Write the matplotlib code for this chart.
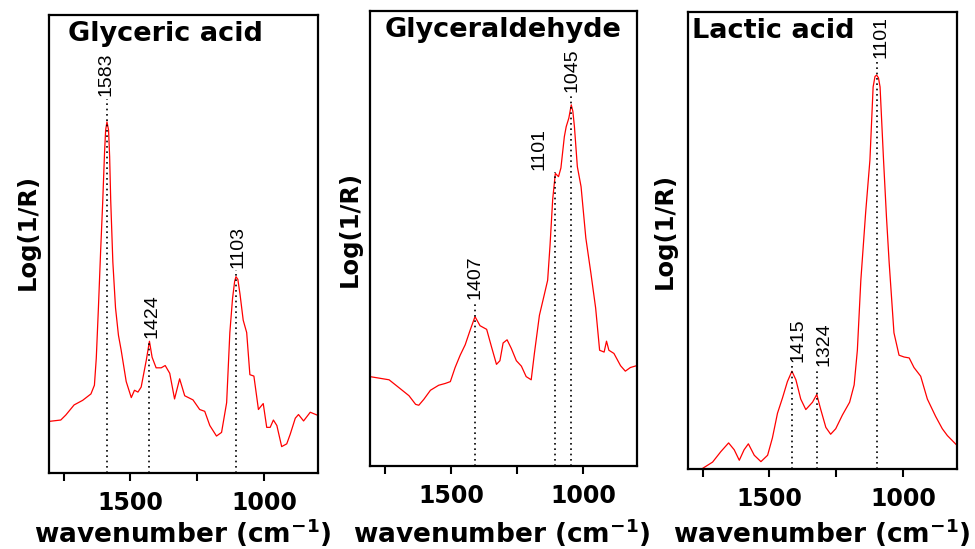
import matplotlib
matplotlib.use("Agg")
import matplotlib.pyplot as plt
from matplotlib.ticker import FixedLocator

# ---------------- data (wavenumber, relative Log(1/R)) ----------------
wn_glyceric = [1805, 1761, 1742, 1711, 1679, 1648, 1635, 1628, 1620, 1612, 1604, 1597, 1593,
               1588, 1582, 1578, 1574, 1566, 1556, 1545, 1535, 1516, 1497, 1485, 1472, 1460,
               1441, 1429, 1419, 1404, 1385, 1370, 1353, 1335, 1316, 1297, 1266, 1241, 1222,
               1203, 1178, 1159, 1140, 1128, 1118, 1110, 1105, 1098, 1090, 1078, 1065, 1053,
               1038, 1021, 1013, 1003, 990, 977, 965, 952, 934, 915, 902, 883, 871, 852, 827, 802]
y_glyceric = [0.112, 0.115, 0.126, 0.148, 0.158, 0.172, 0.191, 0.250, 0.360, 0.480, 0.590, 0.700,
              0.748, 0.766, 0.748, 0.690, 0.595, 0.460, 0.360, 0.300, 0.268, 0.199, 0.164, 0.180,
              0.176, 0.187, 0.245, 0.287, 0.252, 0.229, 0.229, 0.234, 0.217, 0.161, 0.205, 0.168,
              0.159, 0.138, 0.134, 0.103, 0.080, 0.088, 0.153, 0.306, 0.380, 0.418, 0.428, 0.422,
              0.390, 0.333, 0.306, 0.214, 0.211, 0.138, 0.144, 0.151, 0.099, 0.099, 0.115, 0.103,
              0.057, 0.063, 0.084, 0.119, 0.127, 0.113, 0.132, 0.126]

wn_glyceraldehyde = [1805, 1733, 1690, 1658, 1633, 1621, 1602, 1577, 1546, 1521, 1502, 1484, 1465,
                     1446, 1428, 1409, 1390, 1365, 1347, 1328, 1315, 1303, 1288, 1272, 1253, 1234,
                     1216, 1197, 1185, 1166, 1147, 1135, 1126, 1116, 1106, 1094, 1085, 1072, 1065,
                     1055, 1046, 1040, 1034, 1023, 1009, 991, 972, 954, 939, 922, 913, 904, 885,
                     860, 842, 823, 800]
y_glyceraldehyde = [0.196, 0.189, 0.169, 0.154, 0.135, 0.133, 0.146, 0.166, 0.177, 0.181, 0.185,
                    0.216, 0.243, 0.266, 0.297, 0.328, 0.308, 0.300, 0.262, 0.223, 0.231, 0.270,
                    0.277, 0.258, 0.231, 0.219, 0.196, 0.189, 0.247, 0.331, 0.378, 0.408, 0.485,
                    0.586, 0.643, 0.636, 0.655, 0.724, 0.746, 0.765, 0.794, 0.780, 0.746, 0.658,
                    0.614, 0.501, 0.424, 0.347, 0.254, 0.250, 0.274, 0.254, 0.247, 0.220, 0.208,
                    0.216, 0.220]

wn_lactic = [1751, 1713, 1682, 1653, 1632, 1613, 1595, 1579, 1557, 1532, 1507, 1489, 1470, 1451,
             1433, 1416, 1401, 1383, 1364, 1339, 1323, 1308, 1289, 1271, 1252, 1227, 1200, 1183,
             1171, 1158, 1140, 1124, 1112, 1105, 1099, 1092, 1086, 1073, 1062, 1052, 1034, 1015,
             996, 977, 959, 934, 909, 878, 853, 834, 797]
y_lactic = [0.000, 0.014, 0.037, 0.056, 0.041, 0.018, 0.041, 0.054, 0.029, 0.015, 0.029, 0.067,
            0.121, 0.155, 0.190, 0.213, 0.194, 0.152, 0.129, 0.145, 0.162, 0.129, 0.090, 0.075,
            0.087, 0.117, 0.145, 0.183, 0.259, 0.412, 0.560, 0.675, 0.835, 0.858, 0.861, 0.855,
            0.835, 0.675, 0.550, 0.451, 0.297, 0.248, 0.244, 0.242, 0.221, 0.202, 0.152, 0.114,
            0.087, 0.072, 0.050]

titles = ["Glyceric acid", "Glyceraldehyde", "Lactic acid"]

# peak marks: line position, label text, label x, label bottom (relative)
peaks_glyceric = [(1588, "1583", 1590, 0.822), (1429, "1424", 1420, 0.294), (1104, "1103", 1098, 0.447)]
peaks_glyceraldehyde = [(1106, "1101", 1168, 0.651), (1409, "1407", 1408, 0.366), (1046, "1045", 1042, 0.822)]
peaks_lactic = [(1416, "1415", 1395, 0.232), (1323, "1324", 1296, 0.225), (1099, "1101", 1081, 0.899)]

major_ticks = [1500, 1000]
minor_ticks = [1750, 1250]
tick_labels = ["1500", "1000"]

# ---------------- figure ----------------
W, H = 975, 549
fig = plt.figure(figsize=(W / 100, H / 100), dpi=100)

boxes = [(49, 318, 14.7, 472.7), (370, 637, 11.2, 465.7), (688, 957, 11.6, 468.5)]
title_pos = [(0.07, 0.958, "left"), (0.5, 0.958, "center"), (0.015, 0.958, "left")]
ylab_x = [28, 350, 665]
ylab_y = [232, 229, 231]
xlab_x = [183, 502, 822]

series = [(wn_glyceric, y_glyceric, peaks_glyceric),
          (wn_glyceraldehyde, y_glyceraldehyde, peaks_glyceraldehyde),
          (wn_lactic, y_lactic, peaks_lactic)]

for i, ((l, r, t, b), (wn, yv, peaks)) in enumerate(zip(boxes, series)):
    ax = fig.add_axes([l / W, (H - b) / H, (r - l) / W, (b - t) / H])
    ax.plot(wn, yv, color="#ff0000", lw=0.9)
    for xline, txt, xlab, ybot in peaks:
        ax.plot([xline, xline], [0, ybot - 0.005], color="black", lw=1.2,
                linestyle=(0, (1, 2.2)))
        ax.text(xlab, ybot, txt, rotation=90, ha="center", va="bottom",
                fontsize=14, family="Liberation Sans", color="black")
    ax.set_xlim(1805, 798)
    ax.set_ylim(0, 1)
    ax.set_yticks([])
    ax.xaxis.set_major_locator(FixedLocator(major_ticks))
    ax.xaxis.set_minor_locator(FixedLocator(minor_ticks))
    ax.set_xticklabels(tick_labels, fontsize=17, fontweight="bold", family="DejaVu Sans")
    ax.tick_params(axis="x", which="both", direction="out", length=6, width=1.5, pad=7)
    for s in ax.spines.values():
        s.set_linewidth(1.6)
    tx, ty, ha = title_pos[i]
    ax.text(tx, ty, titles[i], transform=ax.transAxes, ha=ha, va="center",
            fontsize=19.5, fontweight="bold", family="DejaVu Sans")
    fig.text(ylab_x[i] / W, (H - ylab_y[i]) / H, "Log(1/R)", rotation=90, ha="center",
             va="center", fontsize=17.5, fontweight="bold", family="DejaVu Sans")
    fig.text(xlab_x[i] / W, (H - 533) / H, r"wavenumber (cm$^{\mathbf{-1}}$)", ha="center",
             va="center", fontsize=19, fontweight="bold", family="DejaVu Sans")

fig.savefig("out.png", dpi=100)
